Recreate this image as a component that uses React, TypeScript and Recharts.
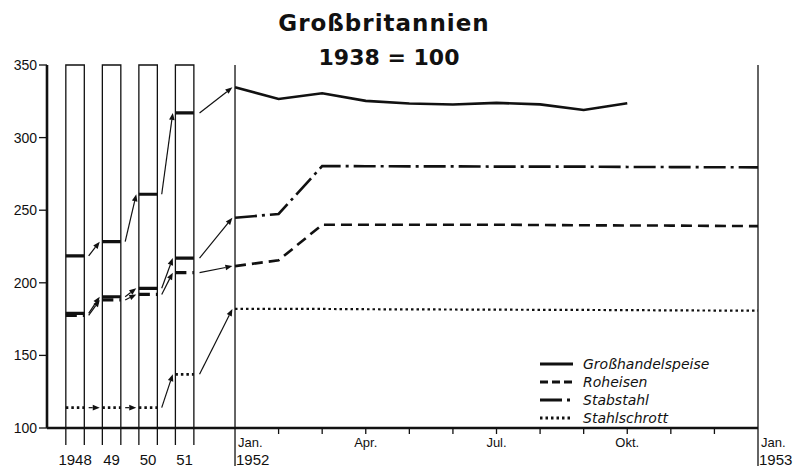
import {
  ComposedChart,
  Line,
  XAxis,
  YAxis,
  ReferenceArea,
  ReferenceLine,
  Legend,
} from "recharts";

// Jahre links (Jahresdurchschnitte) und Monate rechts (1952)
const years = ["1948", "49", "50", "51"];
const monthLabels = ["Jan.", "", "", "Apr.", "", "", "Jul.", "", "", "Okt.", "", "", "Jan."];
const monthYearLabels = ["1952", "", "", "", "", "", "", "", "", "", "", "", "1953"];
const yTicks = [100, 150, 200, 250, 300, 350];

// 1938 = 100, Jahreswerte 1948-1951
const grossYear = [218.5, 228.3, 261, 317];
const roheisenYear = [177.5, 188.2, 192, 207];
const stabstahlYear = [179, 190.4, 196.2, 217];
const schrottYear = [114, 114, 114, 137];

// Monatswerte Jan. 1952 - Jan. 1953
const grossMonth = [334.6, 326.6, 330.5, 325.3, 323.5, 322.8, 323.9, 322.9, 319, 323.6];
const roheisenMonth = [211.5, 215.5, 240, 240, 240, 240, 240, 239.8, 239.6, 239.5, 239.4, 239.2, 239];
const stabstahlMonth = [244.8, 247.4, 280.4, 280.3, 280.2, 280.2, 280, 280, 280, 279.8, 279.7, 279.6, 279.5];
const schrottMonth = [182, 182, 182, 181.8, 181.7, 181.6, 181.5, 181.4, 181.3, 181.2, 181, 180.9, 180.8];

const series = [
  { name: "Großhandelspeise", year: grossYear, month: grossMonth, dash: undefined, legendDash: undefined, width: 2.6 },
  { name: "Roheisen", year: roheisenYear, month: roheisenMonth, dash: "11 6", legendDash: "8 4", width: 2.6 },
  { name: "Stabstahl", year: stabstahlYear, month: stabstahlMonth, dash: "22 5 3 5", legendDash: "22 5 3 5", width: 2.6 },
  { name: "Stahlschrott", year: schrottYear, month: schrottMonth, dash: "2.5 3", legendDash: "2.5 3", width: 2.2 },
];

// x-Achse in Monaten ab Jan. 1952; die Jahressäulen liegen links davon
const X_MIN = -4.314;
const SLOT0 = -3.67;
const SLOT = 0.838;
const HALF = 0.212;
const AXIS_Y = 428;
const INK = "#111";
const FONT = "'Liberation Sans', Arial, sans-serif";

const center = (i: number) => SLOT0 + i * SLOT;
const left = (i: number) => center(i) - HALF;
const right = (i: number) => center(i) + HALF;

const monthTicks = monthLabels.map((_, i) => i);
const edgeTicks = years.flatMap((_, i) => [left(i), right(i)]);
const centerTicks = years.map((_, i) => center(i));
const xTicks = [...monthTicks, ...edgeTicks, ...centerTicks];

const yearData = (vals: number[]) =>
  vals.flatMap((v, i) => [
    { x: left(i), v },
    { x: right(i), v },
    { x: right(i) + 0.05, v: null },
  ]);

const monthData = (vals: number[]) => vals.map((v, i) => ({ x: i, v }));

const arrows = series.flatMap((s) =>
  s.year.map((v, i) => {
    const last = i === s.year.length - 1;
    return [
      { x: right(i) + (last ? 0.13 : 0.1), y: v },
      { x: last ? -0.06 : left(i + 1) - 0.06, y: last ? s.month[0] : s.year[i + 1] },
    ];
  })
);

function Arrow(props: any) {
  const { x1, y1, x2, y2 } = props;
  const a = Math.atan2(y2 - y1, x2 - x1);
  const len = 7;
  const w = 2.8;
  const bx = x2 - len * Math.cos(a);
  const by = y2 - len * Math.sin(a);
  const pts = `${x2},${y2} ${bx + w * Math.sin(a)},${by - w * Math.cos(a)} ${bx - w * Math.sin(a)},${by + w * Math.cos(a)}`;
  return (
    <g>
      <line x1={x1} y1={y1} x2={bx} y2={by} stroke={INK} strokeWidth={1.2} />
      <polygon points={pts} fill={INK} />
    </g>
  );
}

function XTick(props: any) {
  const { x, payload } = props;
  const v = payload.value;
  const mi = monthTicks.findIndex((m) => Math.abs(m - v) < 1e-6);
  if (mi >= 0) {
    if (monthYearLabels[mi]) {
      return (
        <g>
          <line x1={x} y1={AXIS_Y} x2={x} y2={466} stroke={INK} strokeWidth={1.3} />
          <text x={x + 3} y={447} fontSize={13} fontFamily={FONT} fill={INK}>
            {monthLabels[mi]}
          </text>
          <text x={x + 1} y={465} fontSize={15} fontFamily={FONT} fill={INK}>
            {monthYearLabels[mi]}
          </text>
        </g>
      );
    }
    return (
      <g>
        <line x1={x} y1={AXIS_Y} x2={x} y2={AXIS_Y + 6} stroke={INK} strokeWidth={1.3} />
        {monthLabels[mi] && (
          <text x={x} y={447} fontSize={13} fontFamily={FONT} fill={INK} textAnchor="middle">
            {monthLabels[mi]}
          </text>
        )}
      </g>
    );
  }
  const ci = centerTicks.findIndex((c) => Math.abs(c - v) < 1e-6);
  if (ci >= 0) {
    return (
      <text x={x} y={465} fontSize={15} fontFamily={FONT} fill={INK} textAnchor="middle">
        {years[ci]}
      </text>
    );
  }
  return <line x1={x} y1={AXIS_Y} x2={x} y2={445} stroke={INK} strokeWidth={1.3} />;
}

function LegendBox() {
  return (
    <svg width={200} height={76}>
      {series.map((s, i) => (
        <g key={s.name}>
          <line
            x1={2}
            x2={35}
            y1={10 + i * 18}
            y2={10 + i * 18}
            stroke={INK}
            strokeWidth={s.width + 0.6}
            strokeDasharray={s.legendDash}
          />
          <text
            x={45}
            y={15 + i * 18}
            fontSize={14}
            fontStyle="italic"
            fontFamily="'DejaVu Sans', sans-serif"
            fill={INK}
          >
            {s.name}
          </text>
        </g>
      ))}
    </svg>
  );
}

export default function App() {
  return (
    <div style={{ position: "absolute", left: 0, top: 0, width: 801, height: 470, background: "#fff" }}>
      <ComposedChart width={801} height={470} margin={{ top: 65, right: 43, bottom: 0, left: 0 }}>
        <XAxis
          dataKey="x"
          type="number"
          domain={[X_MIN, 12]}
          allowDataOverflow
          ticks={xTicks}
          interval={0}
          tick={<XTick />}
          tickLine={false}
          axisLine={{ stroke: INK, strokeWidth: 2.6 }}
          height={42}
        />
        <YAxis
          type="number"
          domain={[100, 350]}
          ticks={yTicks}
          width={47}
          tickSize={8}
          tickMargin={2}
          tick={{ fontSize: 14, fill: INK, fontFamily: FONT }}
          tickLine={{ stroke: INK, strokeWidth: 1.3 }}
          axisLine={{ stroke: INK, strokeWidth: 2.6 }}
        />
        {years.map((y, i) => (
          <ReferenceArea
            key={y}
            x1={left(i)}
            x2={right(i)}
            y1={100}
            y2={350}
            fill="none"
            fillOpacity={0}
            stroke={INK}
            strokeWidth={1.3}
          />
        ))}
        <ReferenceLine x={0} stroke={INK} strokeWidth={1.3} />
        <ReferenceLine x={12} stroke={INK} strokeWidth={1.3} />
        {arrows.map((seg, i) => (
          <ReferenceLine key={`arrow-${i}`} segment={seg} shape={Arrow} ifOverflow="visible" />
        ))}
        {series.map((s) => (
          <Line
            key={`year-${s.name}`}
            data={yearData(s.year)}
            dataKey="v"
            stroke={INK}
            strokeWidth={s.width + 0.6}
            strokeDasharray={s.dash}
            dot={false}
            activeDot={false}
            isAnimationActive={false}
            legendType="none"
          />
        ))}
        {series.map((s) => (
          <Line
            key={`month-${s.name}`}
            data={monthData(s.month)}
            dataKey="v"
            name={s.name}
            type="linear"
            stroke={INK}
            strokeWidth={s.width}
            strokeDasharray={s.dash}
            dot={false}
            activeDot={false}
            isAnimationActive={false}
          />
        ))}
        <Legend
          layout="horizontal"
          verticalAlign="middle"
          align="center"
          content={<LegendBox />}
          wrapperStyle={{ position: "absolute", left: 538, top: 354, width: 200, height: 76 }}
        />
      </ComposedChart>
      <svg
        width={801}
        height={80}
        style={{ position: "absolute", left: 0, top: 0, pointerEvents: "none" }}
      >
        <text
          x={384}
          y={31}
          textAnchor="middle"
          fontSize={23}
          fontWeight="bold"
          letterSpacing={1}
          fontFamily="'DejaVu Sans', sans-serif"
          fill={INK}
        >
          Großbritannien
        </text>
        <text
          x={389}
          y={65}
          textAnchor="middle"
          fontSize={22}
          fontWeight="bold"
          fontFamily="'DejaVu Sans', sans-serif"
          fill={INK}
        >
          1938 = 100
        </text>
      </svg>
    </div>
  );
}
